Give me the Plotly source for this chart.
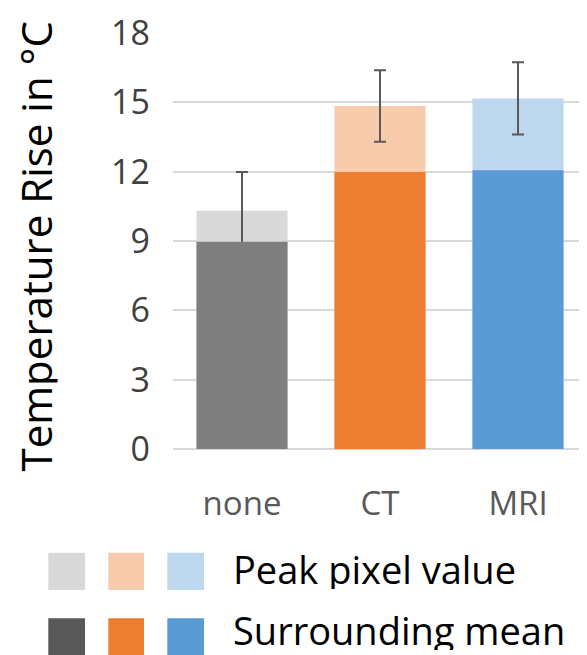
import plotly.graph_objects as go

categories = ["none", "CT", "MRI"]
peak_values = [10.31, 14.84, 15.17]
mean_values = [8.97, 11.99, 12.06]
error_values = [1.68, 1.55, 1.56]
peak_colors = ["#d9d9d9", "#f8cbad", "#bdd7ee"]
mean_colors = ["#7f7f7f", "#ed7d31", "#5b9bd5"]
legend_mean_colors = ["#595959", "#ed7d31", "#5b9bd5"]
y_ticks = [0, 3, 6, 9, 12, 15, 18]
legend_labels = ["Peak pixel value", "Surrounding mean"]

FONT = "Open Sans"
# the page adds an 8px body margin, so the figure is 8px smaller than the window
W, H = 579, 647
ML, MR, MT, MB = 165, 0, 25, 206
PW, PH = W - ML - MR, H - MT - MB


def px_x(p):
    return (p - ML) / PW


def px_y(p):
    return (H - MB - p) / PH


fig = go.Figure()
fig.add_trace(go.Bar(x=categories, y=peak_values, marker=dict(color=peak_colors, line=dict(width=0)),
                     width=0.66, name=legend_labels[0], showlegend=False,
                     error_y=dict(type="data", array=error_values, color="#595959",
                                  thickness=2, width=6)))
fig.add_trace(go.Bar(x=categories, y=mean_values, marker=dict(color=mean_colors, line=dict(width=0)),
                     width=0.66, name=legend_labels[1], showlegend=False))

shapes = []
annotations = []
rows = [(544.7, 582, peak_colors, 561), (610.3, 650, legend_mean_colors, 622)]
cols = [(40.3, 77), (100.3, 136), (159.3, 196)]
for (ytop, ybot, colors, ytext), label in zip(rows, legend_labels):
    for (x0, x1), c in zip(cols, colors):
        shapes.append(dict(type="rect", xref="paper", yref="paper",
                           x0=px_x(x0), x1=px_x(x1), y0=px_y(ybot), y1=px_y(ytop),
                           fillcolor=c, line=dict(width=0), layer="above"))
    annotations.append(dict(text=label, xref="paper", yref="paper",
                            x=px_x(223), y=px_y(ytext), height=40,
                            xanchor="left", yanchor="middle", valign="middle", showarrow=False,
                            font=dict(family=FONT, size=38, color="#000000")))

annotations.append(dict(text="Temperature Rise in °C", xref="paper", yref="paper",
                        x=px_x(27.5), y=px_y(238), textangle=-90, height=44,
                        xanchor="center", yanchor="middle", valign="middle", showarrow=False,
                        font=dict(family=FONT, size=42, color="#000000")))

fig.update_layout(
    width=W, height=H,
    margin=dict(l=ML, r=MR, t=MT, b=MB),
    paper_bgcolor="white", plot_bgcolor="white",
    barmode="overlay",
    shapes=shapes, annotations=annotations,
    font=dict(family=FONT),
    xaxis=dict(range=[-0.5, 2.5], showgrid=False, showline=False, ticks="",
               tickfont=dict(family=FONT, size=33, color="#595959"),
               ticklabelstandoff=32, fixedrange=True),
    yaxis=dict(range=[0, 18], tickvals=y_ticks, showgrid=True, gridcolor="#d9d9d9",
               gridwidth=2, zeroline=True, zerolinecolor="#d9d9d9", zerolinewidth=2,
               showline=False, ticks="",
               tickfont=dict(family=FONT, size=34, color="#404040"),
               ticklabelstandoff=22, fixedrange=True),
)

fig.write_html("out.html")
